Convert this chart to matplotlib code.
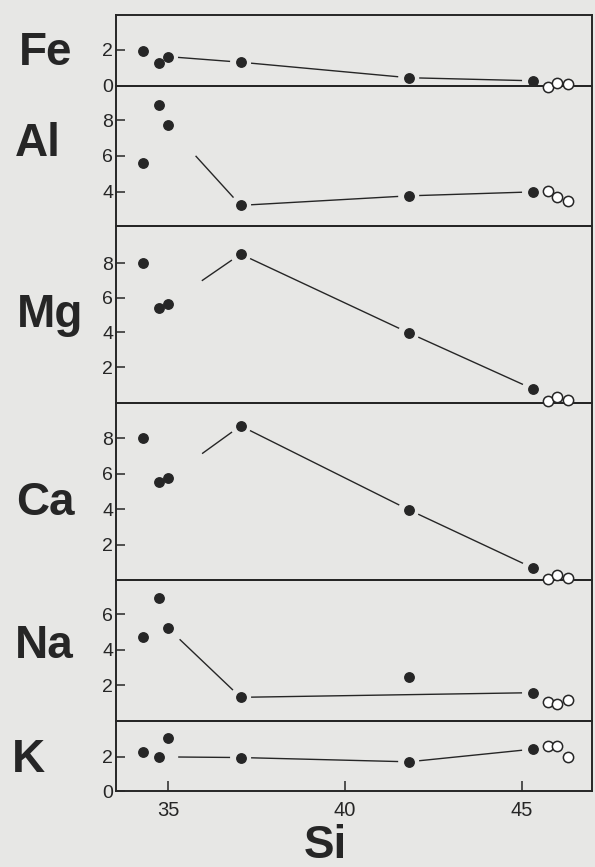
import numpy as np
import matplotlib
matplotlib.use('Agg')
import matplotlib.pyplot as plt

plt.rcParams['font.family'] = ['Liberation Sans', 'DejaVu Sans']

# Si content of the samples (filled = layered sequence, open = late samples)
si = [34.3, 34.75, 35.0, 37.05, 41.8, 45.3]
si_open = [45.75, 46.0, 46.3]

fe = [1.96, 1.26, 1.63, 1.32, 0.46, 0.29]
fe_open = [-0.07, 0.15, 0.09]
al = [5.61, 8.82, 7.70, 3.25, 3.78, 4.00]
al_open = [4.05, 3.72, 3.50]
mg = [7.99, 5.39, 5.64, 8.52, 3.98, 0.75]
mg_open = [0.06, 0.29, 0.10]
ca = [8.00, 5.56, 5.75, 8.71, 3.97, 0.69]
ca_open = [0.07, 0.26, 0.13]
na = [4.74, 6.93, 5.21, 1.33, 2.48, 1.59]
na_open = [1.04, 0.94, 1.18]
k = [2.29, 2.00, 3.08, 1.96, 1.71, 2.45]
k_open = [2.63, 2.63, 2.00]

x_ticks = [35, 40, 45]

# name, values, open values, samples joined by the trend line, y ticks
panels = [
    ('Fe', fe, fe_open, [2, 3, 4, 5], [0, 2]),
    ('Al', al, al_open, [2, 3, 4, 5], [4, 6, 8]),
    ('Mg', mg, mg_open, [2, 3, 4, 5], [2, 4, 6, 8]),
    ('Ca', ca, ca_open, [2, 3, 4, 5], [2, 4, 6, 8]),
    ('Na', na, na_open, [2, 3, 5], [2, 4, 6]),
    ('K', k, k_open, [1, 3, 4, 5], [0, 2]),
]

# layout (pixels from top of the page) and axis ranges
W, H = 595, 867
edges = [15, 86, 226, 403, 580, 721, 791]
ylims = [(0, 3.94), (2.1, 9.9), (-0.07, 10.14), (0, 10.0), (0, 7.92), (0, 4.1)]
lead_gap = [10, 41, 41, 42, 16, 19]
label_pos = [(46, 65), (38, 156), (50, 327), (45, 515), (44, 658), (28, 772)]
left_px, right_px = 116, 592
xlim = (33.53, 46.98)

bg = '#e7e7e5'
ink = '#262626'


def gapped_line(ax, xs, ys, lead, gap=10.5):
    pts = ax.transData.transform(np.column_stack([xs, ys]))
    inv = ax.transData.inverted()
    for j in range(len(pts) - 1):
        a, b = pts[j], pts[j + 1]
        u = (b - a) / np.hypot(*(b - a))
        g0 = lead if j == 0 else gap
        seg = inv.transform(np.array([a + u * g0, b - u * gap]))
        ax.plot(seg[:, 0], seg[:, 1], color=ink, lw=1.0, solid_capstyle='butt')


fig = plt.figure(figsize=(W / 100, H / 100), dpi=100, facecolor=bg)

for i, (name, vals, vals_open, path, yt) in enumerate(panels):
    top, bot = edges[i], edges[i + 1]
    ax = fig.add_axes([left_px / W, 1 - bot / H, (right_px - left_px) / W, (bot - top) / H])
    # upper panels on top so their markers sit over the dividing lines
    ax.set_zorder(len(panels) - i)
    ax.patch.set_visible(False)
    ax.set_xlim(*xlim)
    ax.set_ylim(*ylims[i])
    for s in ax.spines.values():
        s.set_color(ink)
        s.set_linewidth(1.4)

    ax.set_yticks(yt)
    ax.tick_params(axis='y', direction='in', length=6.5, width=1.1, color=ink,
                   labelsize=14, labelcolor=ink, pad=2)
    if i == len(panels) - 1:
        ax.set_xticks(x_ticks)
        ax.tick_params(axis='x', direction='in', length=7, width=1.1, color=ink,
                       labelsize=14.5, labelcolor=ink, pad=7)
    else:
        ax.set_xticks([])

    gapped_line(ax, [si[p] for p in path], [vals[p] for p in path], lead_gap[i])
    ax.plot(si, vals, 'o', ms=6.8, color=ink, mec=ink, clip_on=False, zorder=3)
    ax.plot(si_open, vals_open, 'o', ms=7.4, mfc='white', mec=ink, mew=1.1,
            clip_on=False, zorder=3)

    lx, ly = label_pos[i]
    fig.text(lx / W, 1 - ly / H, name, ha='center', va='baseline',
             fontsize=33, fontweight='bold', color=ink)

fig.text(325 / W, 1 - 858 / H, 'Si', ha='center', va='baseline',
         fontsize=33, fontweight='bold', color=ink)

fig.savefig('out.png', dpi=100, facecolor=fig.get_facecolor())
